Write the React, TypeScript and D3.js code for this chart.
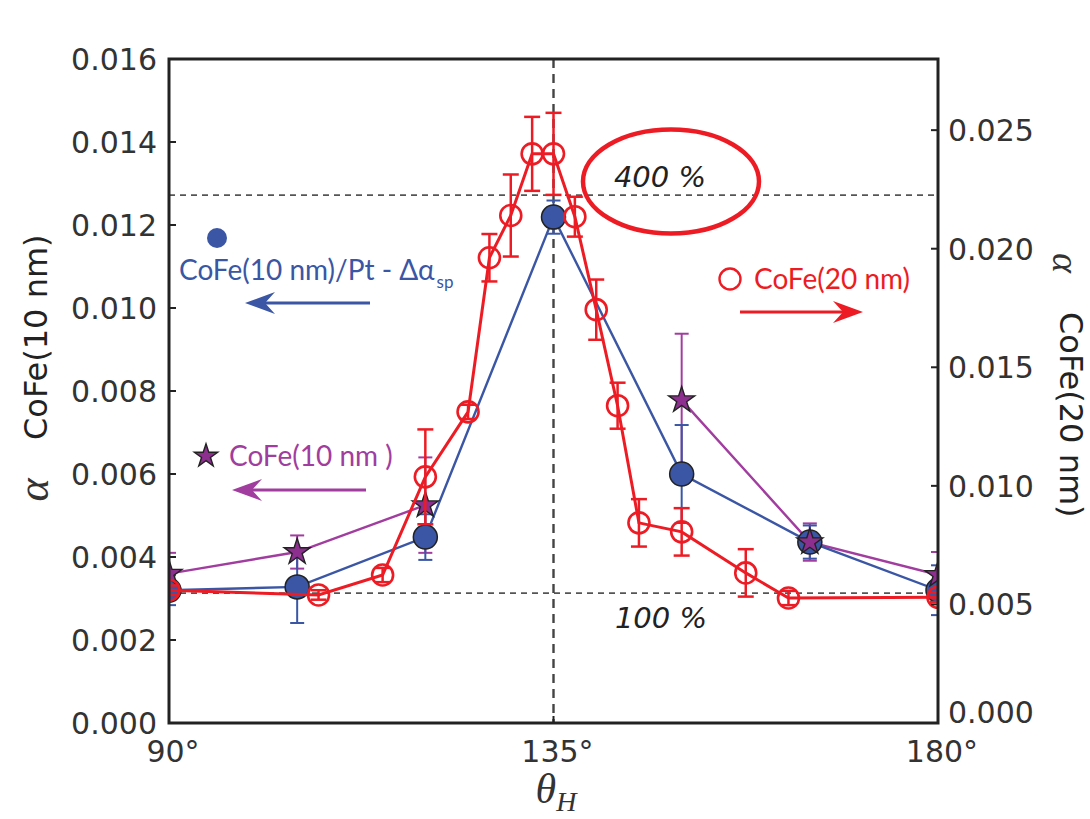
import React from "react";
import * as d3 from "d3";

// ---- data -------------------------------------------------------------
const angleTicks = [90, 135, 180];
const angleTickLabels = ["90°", "135°", "180°"];
const leftTicks = [0, 0.002, 0.004, 0.006, 0.008, 0.01, 0.012, 0.014, 0.016];
const rightTicks = [0, 0.005, 0.01, 0.015, 0.02, 0.025];

// CoFe(10 nm)/Pt - Δα_sp (left axis)
const ptAngles = [90, 105, 120, 135, 150, 165, 180];
const ptAlpha = [0.0032, 0.00328, 0.00448, 0.01219, 0.006, 0.00436, 0.0032];
const ptErr = [0.00036, 0.00087, 0.00055, 0.0004, 0.00118, 0.0004, 0.0006];

// CoFe(10 nm) (left axis); no measurement at 135°
const thinAngles = [90, 105, 120, 135, 150, 165, 180];
const thinAlpha = [0.0036, 0.00412, 0.00525, null, 0.00778, 0.00436, 0.00357];
const thinErr = [0.0005, 0.0004, 0.00115, null, 0.0016, 0.00045, 0.00055];

// CoFe(20 nm) (right axis)
const thickAngles = [90, 107.5, 115, 120, 125, 127.5, 130, 132.5, 135, 137.5, 140, 142.5, 145, 150, 157.5, 162.5, 180];
const thickAlpha = [0.0056, 0.0054, 0.00624, 0.01038, 0.01312, 0.01962, 0.0214, 0.024, 0.024, 0.02135, 0.01743, 0.01338, 0.00844, 0.00806, 0.00633, 0.00527, 0.0053];
const thickErr = [0.0002, 0.0002, 0.0003, 0.002, 0.0003, 0.001, 0.00173, 0.00156, 0.00173, 0.00084, 0.00127, 0.00097, 0.001, 0.001, 0.001, 0.0003, 0.0002];

// reference levels of the left axis
const refLevels = [0.00313, 0.01272];
const refLabels = ["100 %", "400 %"];
const centerAngle = 135;

// ---- styling ----------------------------------------------------------
const BLUE = "#3a56a5";
const PURPLE = "#a13d9f";
const STAR = "#8c2f8f";
const RED = "#ed1c24";
const INK = "#222";
const TICK_FONT = "'DejaVu Sans', sans-serif";
const NOTE_FONT = "Lato, 'Open Sans', sans-serif";
const MATH_FONT = "'Liberation Serif', 'DejaVu Serif', serif";

const W = 1090;
const H = 819;
const plot = { left: 169, right: 938, top: 59, bottom: 723 };

const x = d3.scaleLinear().domain([90, 180]).range([plot.left, plot.right]);
const yL = d3.scaleLinear().domain([0, 0.016]).range([plot.bottom, plot.top]);
const yR = d3.scaleLinear().domain([0, 0.028]).range([plot.bottom, plot.top]);

type Pt = { a: number; v: number | null; e: number | null };
const zip = (a: number[], v: (number | null)[], e: (number | null)[]): Pt[] =>
  a.map((ang, i) => ({ a: ang, v: v[i], e: e[i] }));

const ptData = zip(ptAngles, ptAlpha, ptErr);
const thinData = zip(thinAngles, thinAlpha, thinErr);
const thickData = zip(thickAngles, thickAlpha, thickErr);

function seriesPath(data: Pt[], y: d3.ScaleLinear<number, number>) {
  return d3
    .line<Pt>()
    .defined((d) => d.v != null)
    .x((d) => x(d.a))
    .y((d) => y(d.v as number))(data) as string;
}

function ErrorBars({ data, y, color, width, cap }: { data: Pt[]; y: d3.ScaleLinear<number, number>; color: string; width: number; cap: number }) {
  return (
    <g stroke={color} strokeWidth={width} fill="none">
      {data
        .filter((d) => d.v != null && d.e != null)
        .map((d, i) => {
          const cx = x(d.a);
          const y1 = y((d.v as number) + (d.e as number));
          const y0 = y((d.v as number) - (d.e as number));
          return (
            <g key={i}>
              <line x1={cx} x2={cx} y1={y0} y2={y1} />
              <line x1={cx - cap} x2={cx + cap} y1={y1} y2={y1} />
              <line x1={cx - cap} x2={cx + cap} y1={y0} y2={y0} />
            </g>
          );
        })}
    </g>
  );
}

const starPath = d3.symbol().type(d3.symbolStar).size(210)() as string;
const starSmall = d3.symbol().type(d3.symbolStar).size(170)() as string;

function Arrow({ from, to, y, color }: { from: number; to: number; y: number; color: string }) {
  const dir = Math.sign(to - from);
  const len = 30;
  const half = 11;
  const notch = 20;
  const head = `M${to},${y} L${to - dir * len},${y - half} L${to - dir * notch},${y} L${to - dir * len},${y + half} Z`;
  return (
    <g>
      <line x1={from} x2={to - dir * notch} y1={y} y2={y} stroke={color} strokeWidth={3} />
      <path d={head} fill={color} />
    </g>
  );
}

export default function App() {
  const xc = x(centerAngle);
  return (
    <svg width={W} height={H} viewBox={`0 0 ${W} ${H}`} style={{ display: "block", position: "absolute", left: 0, top: 0, background: "#fff" }}>
      <defs>
        <clipPath id="plotClip">
          <rect x={plot.left} y={plot.top} width={plot.right - plot.left} height={plot.bottom - plot.top} />
        </clipPath>
      </defs>

      {/* reference lines */}
      <g stroke="#555" strokeWidth={1.8} strokeDasharray="6,5">
        {refLevels.map((lv, i) => (
          <line key={i} x1={plot.left} x2={plot.right} y1={yL(lv)} y2={yL(lv)} />
        ))}
      </g>
      <line x1={xc} x2={xc} y1={plot.top} y2={plot.bottom} stroke="#444" strokeWidth={2.4} strokeDasharray="9,6" />

      <g clipPath="url(#plotClip)">
        {/* CoFe(10 nm) line + error bars */}
        <path d={seriesPath(thinData, yL)} fill="none" stroke={PURPLE} strokeWidth={2.4} />
        <ErrorBars data={thinData} y={yL} color={PURPLE} width={2} cap={7} />

        {/* CoFe(10 nm)/Pt line + error bars + markers */}
        <path d={seriesPath(ptData, yL)} fill="none" stroke={BLUE} strokeWidth={2.4} />
        <ErrorBars data={ptData} y={yL} color={BLUE} width={2} cap={7} />
        {ptData.map((d, i) => (
          <circle key={i} cx={x(d.a)} cy={yL(d.v as number)} r={12} fill={BLUE} stroke={INK} strokeWidth={1.5} />
        ))}

        {/* CoFe(10 nm) star markers */}
        {thinData
          .filter((d) => d.v != null)
          .map((d, i) => (
            <path key={i} d={starPath} transform={`translate(${x(d.a)},${yL(d.v as number)})`} fill={STAR} stroke={INK} strokeWidth={1.4} />
          ))}

        {/* CoFe(20 nm) */}
        <path d={seriesPath(thickData, yR)} fill="none" stroke={RED} strokeWidth={3} />
        <ErrorBars data={thickData} y={yR} color={RED} width={2.5} cap={8} />
        {thickData.map((d, i) => (
          <circle key={i} cx={x(d.a)} cy={yR(d.v as number)} r={10.5} fill="none" stroke={RED} strokeWidth={2.6} />
        ))}
      </g>

      {/* frame */}
      <rect x={plot.left} y={plot.top} width={plot.right - plot.left} height={plot.bottom - plot.top} fill="none" stroke={INK} strokeWidth={3} />

      {/* left axis */}
      <g fontFamily={TICK_FONT} fontSize={30} fill="#333">
        {leftTicks.map((t) => (
          <g key={t}>
            <line x1={plot.left} x2={plot.left + 7} y1={yL(t)} y2={yL(t)} stroke={INK} strokeWidth={2} />
            <text x={plot.left - 12} y={yL(t)} dy="0.36em" textAnchor="end">
              {d3.format(".3f")(t)}
            </text>
          </g>
        ))}
      </g>

      {/* right axis */}
      <g fontFamily={TICK_FONT} fontSize={30} fill="#333">
        {rightTicks.map((t) => (
          <g key={t}>
            <line x1={plot.right - 7} x2={plot.right} y1={yR(t)} y2={yR(t)} stroke={INK} strokeWidth={2} />
            <text x={plot.right + 10} y={yR(t) - (t === 0 ? 11 : 0)} dy="0.36em" textAnchor="start">
              {d3.format(".3f")(t)}
            </text>
          </g>
        ))}
      </g>

      {/* bottom axis */}
      <g fontFamily={TICK_FONT} fontSize={30} fill="#333">
        {angleTicks.map((t, i) => (
          <g key={t}>
            <line x1={x(t)} x2={x(t)} y1={plot.bottom} y2={plot.bottom - 7} stroke={INK} strokeWidth={2} />
            <text x={x(t) + 4} y={plot.bottom + 39} textAnchor="middle">
              {angleTickLabels[i]}
            </text>
          </g>
        ))}
      </g>

      {/* axis titles */}
      <text x={556} y={803} fontFamily={MATH_FONT} fontStyle="italic" fontSize={42} fill="#333" textAnchor="middle">
        θ<tspan fontSize={28} dy={8}>H</tspan>
      </text>

      <g transform="translate(48,490) rotate(-90)">
        <text x={0} y={0} fontFamily={MATH_FONT} fontStyle="italic" fontSize={44} fill="#333" textAnchor="middle">α</text>
      </g>
      <g transform="translate(47,440) rotate(-90)">
        <text x={0} y={0} fontFamily={TICK_FONT} fontSize={32} fill="#222" textAnchor="start">CoFe(10 nm)</text>
      </g>

      <g transform="translate(1053,263) rotate(90)">
        <text x={0} y={0} fontFamily={MATH_FONT} fontStyle="italic" fontSize={38} fill="#333" textAnchor="middle">α</text>
      </g>
      <g transform="translate(1060,312) rotate(90)">
        <text x={0} y={0} fontFamily={TICK_FONT} fontSize={32} fill="#222" textAnchor="start">CoFe(20 nm)</text>
      </g>

      {/* level labels */}
      <g fontFamily={TICK_FONT} fontStyle="italic" fontSize={29} fill="#222" textAnchor="middle">
        <text x={660} y={yL(refLevels[1]) - 8}>{refLabels[1]}</text>
        <text x={661} y={yL(refLevels[0]) + 35}>{refLabels[0]}</text>
      </g>
      <ellipse cx={671} cy={181.5} rx={88} ry={52} fill="none" stroke={RED} strokeWidth={4.5} />

      {/* series annotations */}
      <circle cx={217} cy={238} r={10} fill={BLUE} />
      <text x={179} y={280} fontFamily={NOTE_FONT} fontSize={28} fill={BLUE}>
        CoFe(10 nm)/Pt - Δα<tspan fontSize={17} dy={8} dx={2}>sp</tspan>
      </text>
      <Arrow from={370} to={245} y={303} color={BLUE} />

      <path d={starSmall} transform="translate(206,456)" fill={STAR} stroke={INK} strokeWidth={1.4} />
      <text x={229} y={466} fontFamily={NOTE_FONT} fontSize={28} fill={PURPLE}>
        CoFe(10 nm )
      </text>
      <Arrow from={366} to={232} y={490} color={PURPLE} />

      <circle cx={730} cy={279} r={10.5} fill="none" stroke={RED} strokeWidth={2.4} />
      <text x={754} y={289} fontFamily={NOTE_FONT} fontSize={28} fill={RED}>
        CoFe(20 nm)
      </text>
      <Arrow from={740} to={863} y={312} color={RED} />
    </svg>
  );
}
